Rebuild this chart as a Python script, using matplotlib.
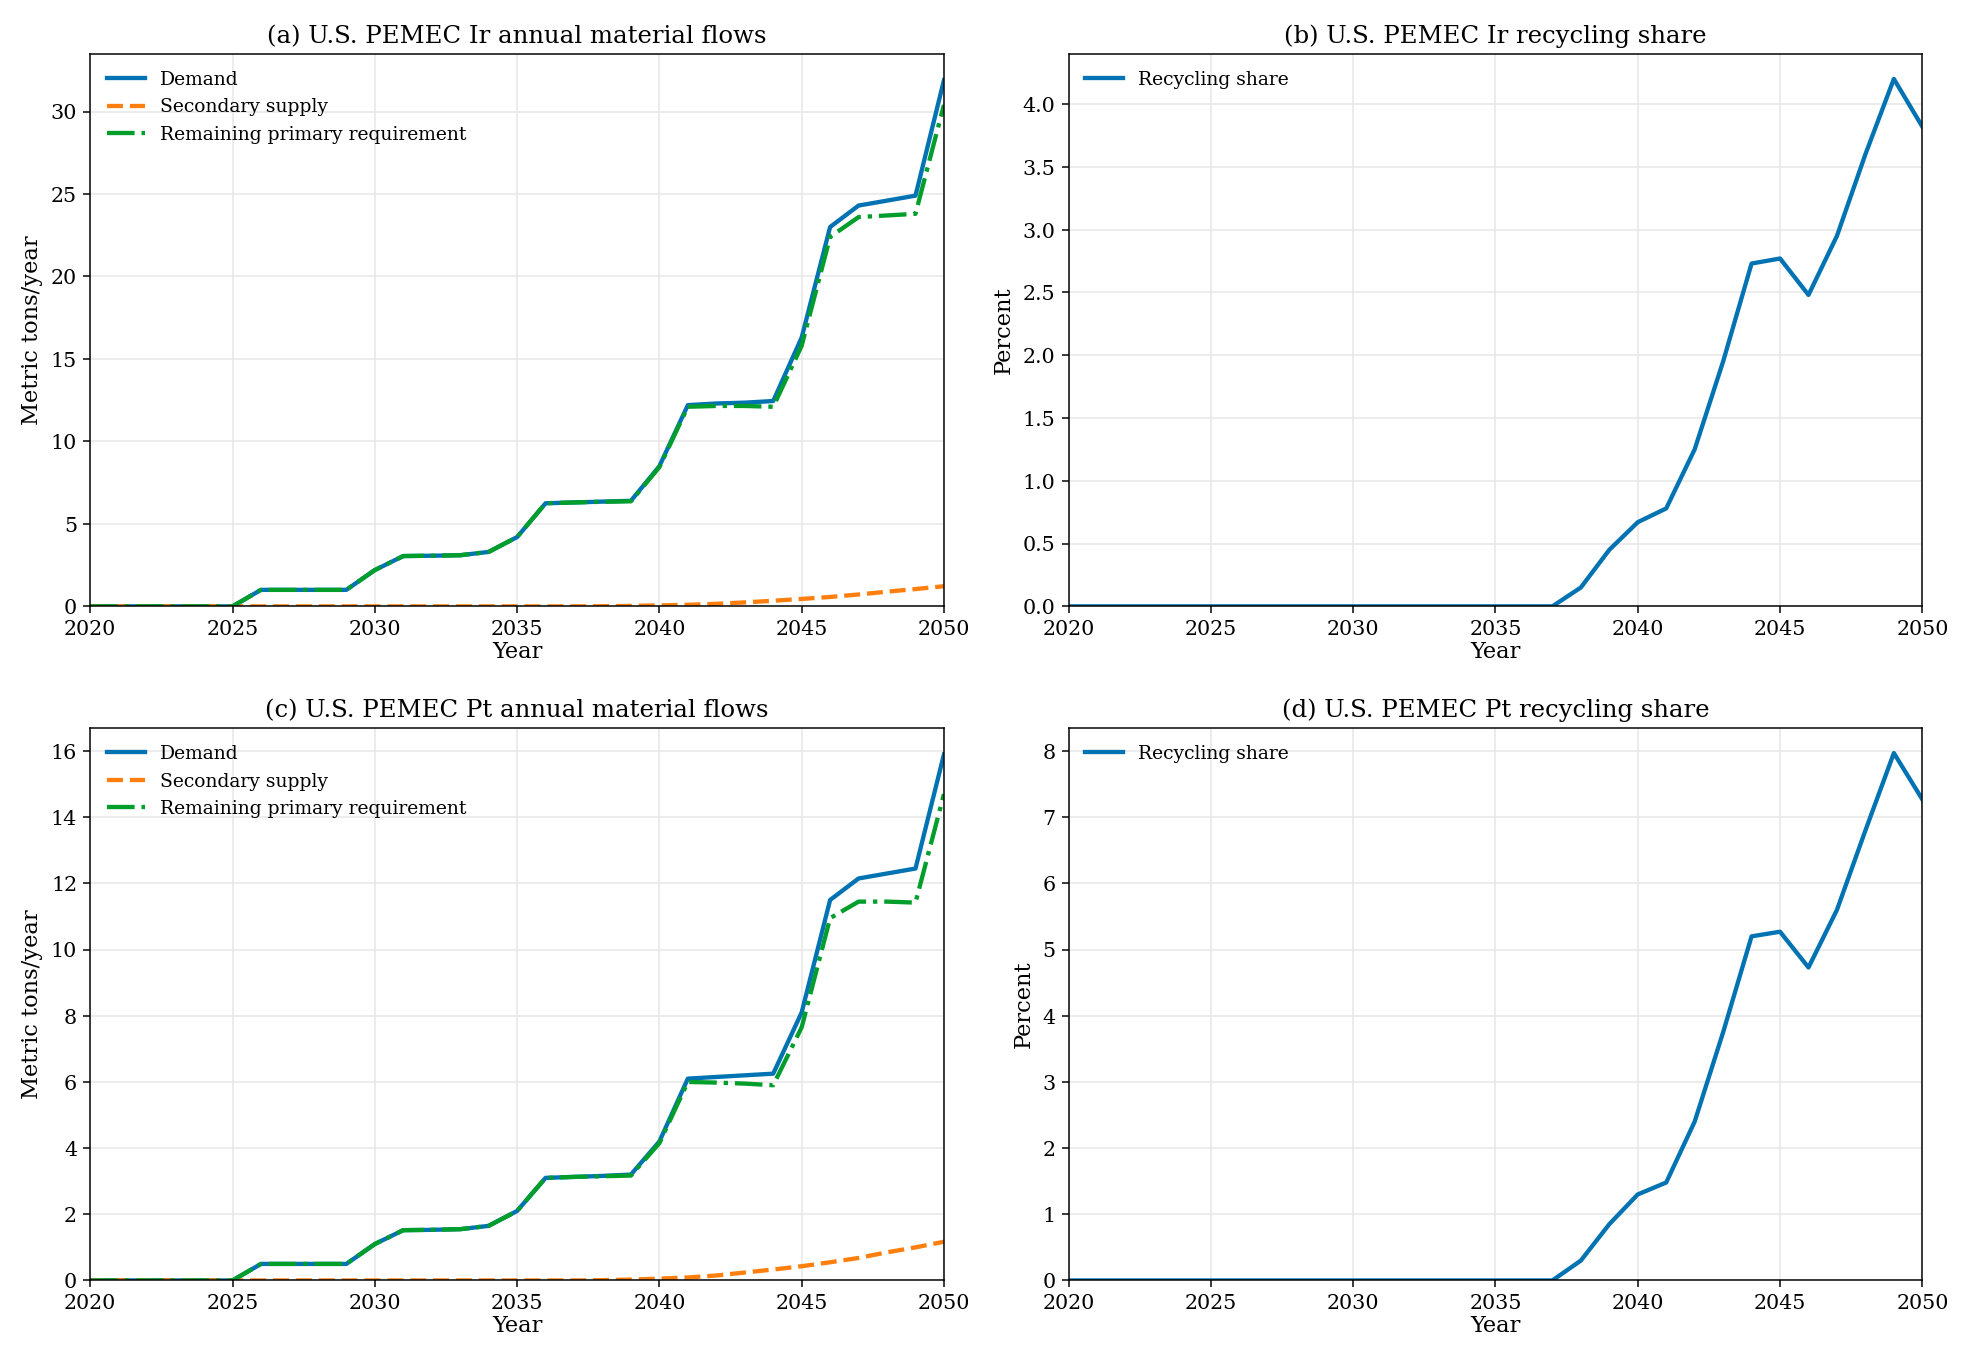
import matplotlib
matplotlib.use("Agg")
import matplotlib.pyplot as plt
import numpy as np

years = list(range(2020, 2051))

ir_demand = [0,0,0,0,0,0,1.0,1.0,1.0,1.0,2.2,3.05,3.07,3.1,3.3,4.2,6.25,6.3,6.35,6.4,8.5,12.2,12.3,12.35,12.45,16.3,23.0,24.3,24.6,24.9,31.9]
ir_secondary = [0]*18 + [0.01,0.03,0.057,0.095,0.154,0.24,0.34,0.45,0.57,0.72,0.89,1.05,1.22]
ir_remaining = [0,0,0,0,0,0,1.0,1.0,1.0,1.0,2.2,3.05,3.07,3.1,3.3,4.2,6.25,6.3,6.34,6.37,8.44,12.1,12.15,12.15,12.1,15.8,22.4,23.6,23.7,23.8,30.4]
ir_share = [0]*18 + [0.15,0.45,0.67,0.78,1.25,1.95,2.73,2.77,2.48,2.95,3.6,4.2,3.82]

pt_demand = [0,0,0,0,0,0,0.5,0.5,0.5,0.5,1.1,1.52,1.53,1.55,1.65,2.1,3.1,3.13,3.16,3.2,4.2,6.1,6.15,6.2,6.25,8.1,11.5,12.15,12.3,12.45,15.9]
pt_secondary = [0]*18 + [0.01,0.027,0.055,0.09,0.15,0.24,0.33,0.43,0.55,0.68,0.85,1.0,1.17]
pt_remaining = [0,0,0,0,0,0,0.5,0.5,0.5,0.5,1.1,1.52,1.53,1.55,1.65,2.1,3.1,3.13,3.15,3.17,4.15,6.0,5.98,5.95,5.9,7.65,10.95,11.45,11.45,11.42,14.7]
pt_share = [0]*18 + [0.3,0.85,1.3,1.48,2.4,3.75,5.2,5.27,4.73,5.6,6.8,7.97,7.27]

plt.rcParams['font.family'] = ['DejaVu Serif']
BLUE, ORANGE, GREEN = '#0173B2', '#FF7F0E', '#029E2C'

fig, axes = plt.subplots(2, 2, figsize=(14.53, 10.04), dpi=135)
fig.subplots_adjust(left=0.046, right=0.98, top=0.96, bottom=0.055, hspace=0.22, wspace=0.146)

def flows(ax, d, s, r, title, ymax):
    ax.plot(years, d, color=BLUE, lw=2.3, label='Demand')
    ax.plot(years, s, color=ORANGE, lw=2.3, ls='--', label='Secondary supply')
    ax.plot(years, r, color=GREEN, lw=2.3, ls='-.', label='Remaining primary requirement')
    ax.set_ylabel('Metric tons/year', fontsize=12)
    ax.set_ylim(0, ymax)
    fin(ax, title)

def share(ax, v, title, ymax):
    ax.plot(years, v, color=BLUE, lw=2.3, label='Recycling share')
    ax.set_ylabel('Percent', fontsize=12)
    ax.set_ylim(0, ymax)
    fin(ax, title)

def fin(ax, title):
    ax.set_xlim(2020, 2050)
    ax.set_xlabel('Year', fontsize=12, labelpad=1)
    ax.set_title(title, fontsize=13)
    ax.grid(True, color='#e6e6e6', lw=0.8)
    ax.tick_params(labelsize=11)
    ax.legend(loc='upper left', frameon=False, fontsize=10)

flows(axes[0,0], ir_demand, ir_secondary, ir_remaining, '(a) U.S. PEMEC Ir annual material flows', 33.5)
share(axes[0,1], ir_share, '(b) U.S. PEMEC Ir recycling share', 4.4)
flows(axes[1,0], pt_demand, pt_secondary, pt_remaining, '(c) U.S. PEMEC Pt annual material flows', 16.7)
share(axes[1,1], pt_share, '(d) U.S. PEMEC Pt recycling share', 8.35)

fig.savefig('out.png')
